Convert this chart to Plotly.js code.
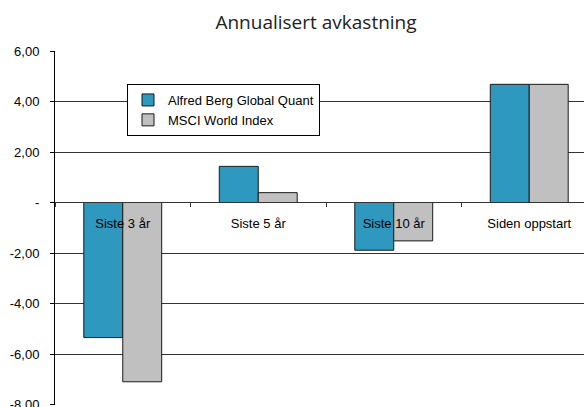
<!DOCTYPE html>
<html>
<head>
<meta charset="utf-8">
<script src="https://cdn.plot.ly/plotly-3.0.1.min.js"></script>
<style>html,body{margin:0;padding:0;overflow:hidden;background:#fff}</style>
</head>
<body>
<div id="chart" style="width:584px;height:407px"></div>
<script>
var categories = ["Siste 3 år", "Siste 5 år", "Siste 10 år", "Siden oppstart"];
var seriesNames = ["Alfred Berg Global Quant", "MSCI World Index"];
var fundValues = [-5.35, 1.43, -1.89, 4.68];
var indexValues = [-7.10, 0.39, -1.52, 4.68];
var yTickVals = [6, 4, 2, 0, -2, -4, -6, -8];
var yTickText = ["6,00", "4,00", "2,00", "-", "-2,00", "-4,00", "-6,00", "-8,00"];

var yMin = -8.02, yMax = 6;

var traces = [
  {type: "bar", name: seriesNames[0], x: categories, y: fundValues,
   marker: {color: "#2e98bf", line: {color: "#1a1a1a", width: 1}}, hoverinfo: "none"},
  {type: "bar", name: seriesNames[1], x: categories, y: indexValues,
   marker: {color: "#c0c0c0", line: {color: "#1a1a1a", width: 1}}, hoverinfo: "none"}
];

var layout = {
  width: 584, height: 407,
  margin: {l: 55, r: 0, t: 51, b: 2, pad: 0},
  paper_bgcolor: "#fff", plot_bgcolor: "#fff",
  font: {family: "Liberation Sans, Arial, sans-serif", size: 13, color: "#000"},
  title: {text: "Annualisert avkastning", font: {family: "Open Sans, sans-serif", size: 19, color: "#222"},
          x: 316/584, xanchor: "center", xref: "container", y: 1 - 22/407, yanchor: "middle", yref: "container"},
  barmode: "group", bargap: 0.425, bargroupgap: 0,
  showlegend: true,
  legend: {x: (127 - 55)/529, y: 1 - 33/354, xanchor: "left", yanchor: "top",
           bgcolor: "#fff", bordercolor: "#000", borderwidth: 1,
           font: {family: "Liberation Sans, Arial, sans-serif", size: 13, color: "#000"},
           traceorder: "normal", itemwidth: 30},
  xaxis: {type: "category", range: [-0.5, 3.5 - 13/135.6], fixedrange: true,
          anchor: "free", position: (0 - yMin)/(yMax - yMin),
          showline: true, linecolor: "#333", linewidth: 1,
          ticks: "outside", tickson: "boundaries", ticklen: 4, tickcolor: "#333",
          showgrid: false, ticklabelstandoff: 9,
          tickfont: {family: "Liberation Sans, Arial, sans-serif", size: 13, color: "#000"}},
  yaxis: {range: [yMin, yMax], fixedrange: true,
          tickvals: yTickVals, ticktext: yTickText, ticklabeloverflow: "allow",
          showline: true, linecolor: "#000", linewidth: 1,
          ticks: "outside", ticklen: 4, tickcolor: "#000",
          showgrid: true, gridcolor: "#333", gridwidth: 1,
          zeroline: false, ticklabelstandoff: 8,
          tickfont: {family: "Liberation Sans, Arial, sans-serif", size: 13, color: "#000"}}
};

Plotly.newPlot("chart", traces, layout, {displayModeBar: false, staticPlot: true});
</script>
</body>
</html>
